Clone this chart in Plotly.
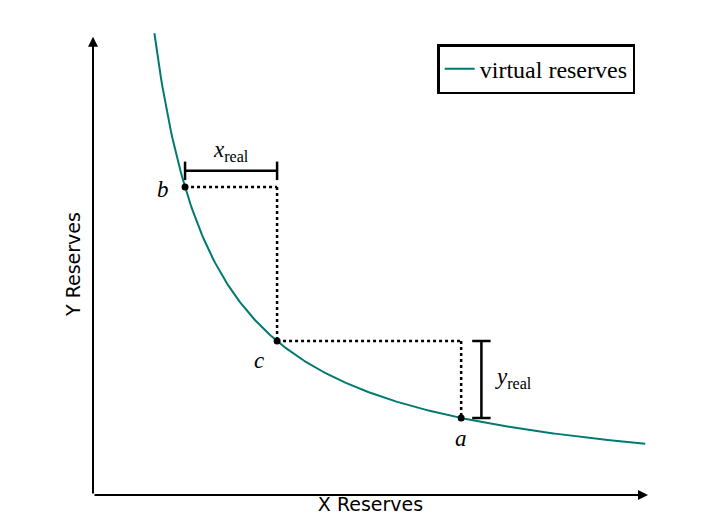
import numpy as np
import plotly.graph_objects as go

# points (data units)
pt_names = ["b", "c", "a"]
pt_x = [1.0, 2.0, 4.0]
pt_y = [4.0, 2.0, 1.0]
k = 4.0  # invariant x*y
curve_x = np.linspace(0.667, 6.0, 300)
curve_y = k / curve_x

fig = go.Figure()
fig.add_trace(go.Scatter(x=curve_x, y=curve_y, mode="lines",
                         line=dict(color="#007a70", width=2), name="virtual reserves"))
fig.add_trace(go.Scatter(x=pt_x, y=pt_y, mode="markers", marker=dict(color="black", size=7),
                         showlegend=False))
dot = dict(color="black", width=2.5, dash="dot")
b, c, a = list(zip(pt_x, pt_y))
fig.add_shape(type="line", x0=b[0], y0=b[1], x1=c[0], y1=b[1], line=dot)
fig.add_shape(type="line", x0=c[0], y0=b[1], x1=c[0], y1=c[1], line=dot)
fig.add_shape(type="line", x0=c[0], y0=c[1], x1=a[0], y1=c[1], line=dot)
fig.add_shape(type="line", x0=a[0], y0=c[1], x1=a[0], y1=a[1], line=dot)
sol = dict(color="black", width=2.5)
yb = 4.21
fig.add_shape(type="line", x0=b[0], y0=yb, x1=c[0], y1=yb, line=sol)
fig.add_shape(type="line", x0=b[0], y0=yb - 0.12, x1=b[0], y1=yb + 0.12, line=sol)
fig.add_shape(type="line", x0=c[0], y0=yb - 0.12, x1=c[0], y1=yb + 0.12, line=sol)
xb = 4.22
fig.add_shape(type="line", x0=xb, y0=a[1], x1=xb, y1=c[1], line=sol)
fig.add_shape(type="line", x0=xb - 0.1, y0=a[1], x1=xb + 0.1, y1=a[1], line=sol)
fig.add_shape(type="line", x0=xb - 0.1, y0=c[1], x1=xb + 0.1, y1=c[1], line=sol)

serif = "Liberation Serif"
ann = [
    dict(x=1.5, y=4.47, text="<i>x</i><sub>real</sub>"),
    dict(x=4.57, y=1.52, text="<i>y</i><sub>real</sub>"),
    dict(x=0.76, y=3.97, text="<i>b</i>"),
    dict(x=1.8, y=1.75, text="<i>c</i>"),
    dict(x=4.0, y=0.74, text="<i>a</i>"),
]
for an in ann:
    fig.add_annotation(**an, showarrow=False, font=dict(family=serif, size=23, color="black"))
fig.add_annotation(x=6.03, y=0, ax=0, ay=0, xref="x", yref="y", axref="x", ayref="y",
                   showarrow=True, arrowhead=2, arrowwidth=2, arrowsize=1, arrowcolor="black", text="")
fig.add_annotation(x=0, y=5.95, ax=0, ay=0, xref="x", yref="y", axref="x", ayref="y",
                   showarrow=True, arrowhead=2, arrowwidth=2, arrowsize=1, arrowcolor="black", text="")

fig.update_layout(
    width=720, height=528, margin=dict(l=85, r=80, t=25, b=41),
    plot_bgcolor="white", paper_bgcolor="white",
    xaxis=dict(range=[0, 6.03], showgrid=False, zeroline=False, showticklabels=False, automargin=False,
               title=dict(text="X Reserves", standoff=2, font=dict(family="DejaVu Sans", size=19, color="black"))),
    yaxis=dict(range=[0, 6.0], showgrid=False, zeroline=False, showticklabels=False, automargin=False,
               title=dict(text="Y Reserves", standoff=6, font=dict(family="DejaVu Sans", size=19, color="black"))),
    legend=dict(x=0.977, y=0.976, xanchor="right", yanchor="top", bordercolor="black",
                borderwidth=2.5, bgcolor="white", font=dict(family=serif, size=24, color="black")),
)
fig.write_html("out.html")
